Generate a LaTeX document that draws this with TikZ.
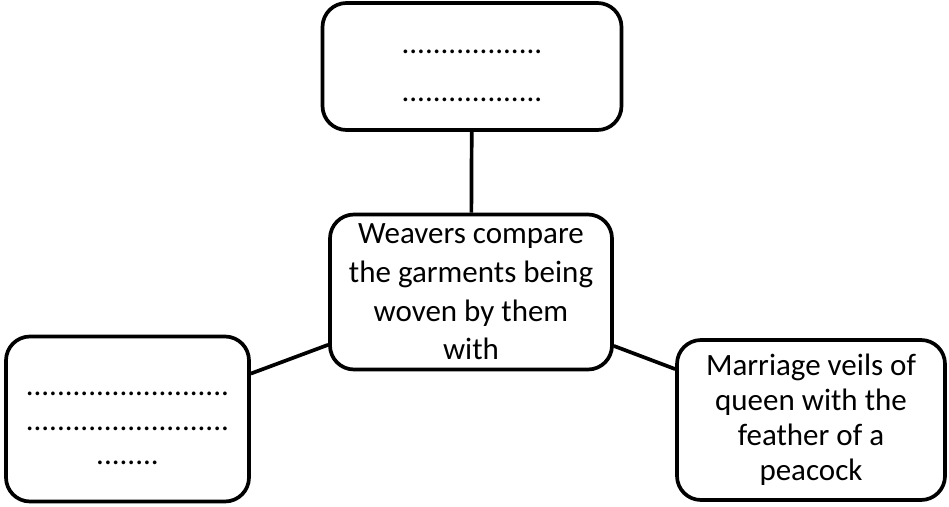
\documentclass[tikz,border=0pt]{standalone}
\usepackage{fontspec}
\setmainfont{Carlito}
\usetikzlibrary{positioning}

\begin{document}
\begin{tikzpicture}[
    x=1pt, y=-1pt,
    box/.style={rectangle, draw=black, line width=3.7pt, rounded corners=24pt,
                inner sep=0pt, align=center, fill=white},
    link/.style={draw=black, line width=3.7pt}
]
\useasboundingbox (0,0) rectangle (949,506);

% Central box
\node[box, minimum width=282pt, minimum height=155pt,
      font=\fontsize{31}{38.6}\selectfont] (weavers) at (471,292)
     {Weavers compare\\the garments being\\woven by them\\with};

% Surrounding boxes
\node[box, minimum width=299pt, minimum height=127pt,
      font=\fontsize{31}{48}\selectfont] (blanktop) at (472,66.5)
     {\rule{0pt}{23pt}..................\\..................};
\node[box, minimum width=243pt, minimum height=165pt,
      font=\fontsize{31}{34.5}\selectfont] (blankleft) at (127.5,419)
     {\rule{0pt}{23pt}..........................\\..........................\\........};
\node[box, minimum width=268pt, minimum height=160pt,
      font=\fontsize{31}{35}\selectfont] (veils) at (811,420)
     {Marriage veils of\\queen with the\\feather of a\\peacock};

% Connectors
\draw[link] (blanktop) -- (weavers);
\draw[link] (weavers) -- (blankleft);
\draw[link] (weavers) -- (veils);

\end{tikzpicture}
\end{document}
